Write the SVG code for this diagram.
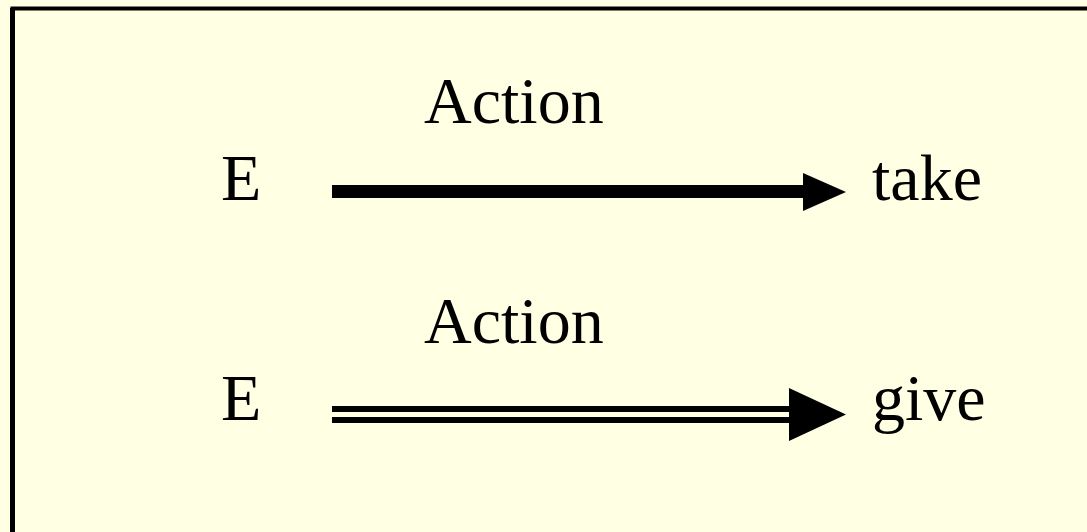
<svg xmlns="http://www.w3.org/2000/svg" width="1087" height="532" viewBox="0 0 1087 532">
<style>
.t{font-family:"Liberation Serif","Times New Roman",serif;font-size:66px;fill:#000}
.ln{stroke:#000;fill:none}
.hd{fill:#000}
</style>
<rect x="0" y="0" width="1087" height="532" fill="#FFFFE3"/>
<g id="frame">
<path class="ln" d="M12.5 545 V8.5 H1100" stroke-width="4"/>
<rect x="10" y="8" width="5" height="530" fill="#000"/>
</g>
<g id="n-e1"><text class="t" x="221" y="200">E</text></g>
<g id="n-action1"><text class="t" x="424" y="123">Action</text></g>
<g id="n-take"><text class="t" x="872" y="200">take</text></g>
<g id="n-e2"><text class="t" x="221" y="420">E</text></g>
<g id="n-action2"><text class="t" x="424" y="343">Action</text></g>
<g id="n-give"><text class="t" x="872" y="420">give</text></g>
<g id="connectors">
<rect x="332" y="185" width="472" height="13" fill="#000"/>
<polygon class="hd" points="803,173 846,192 803,211"/>
<rect x="332" y="406" width="458" height="6" fill="#000"/>
<rect x="332" y="417" width="458" height="6" fill="#000"/>
<polygon class="hd" points="789,388 846,414.5 789,441"/>
</g>
</svg>
